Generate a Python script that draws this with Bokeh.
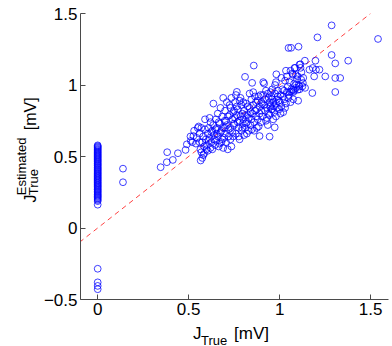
import math
from bokeh.plotting import figure
from bokeh.models import Range1d, FixedTicker
from bokeh.layouts import row, column
from bokeh.core.properties import value
from bokeh.embed import file_html
from bokeh.resources import INLINE

# ---------------- data ----------------
zero_x = [0.0] * 64
zero_y = [0.163, 0.188, 0.196, 0.203, 0.211, 0.218, 0.224, 0.231, 0.237, 0.245,
          0.252, 0.258, 0.266, 0.271, 0.279, 0.286, 0.292, 0.299, 0.305, 0.313,
          0.318, 0.326, 0.333, 0.339, 0.347, 0.352, 0.360, 0.366, 0.373, 0.380,
          0.386, 0.393, 0.400, 0.407, 0.413, 0.420, 0.426, 0.434, 0.440, 0.447,
          0.453, 0.461, 0.467, 0.474, 0.480, 0.487, 0.494, 0.500, 0.507, 0.513,
          0.520, 0.527, 0.533, 0.540, 0.547, 0.553, 0.560, 0.566, 0.572, 0.578,
          -0.285, -0.380, -0.405, -0.428]

sparse_x = [0.139, 0.139, 0.346, 0.382, 0.380, 0.413, 0.441, 0.483, 0.490, 0.512,
            0.526, 0.566, 0.575, 0.580, 0.590, 0.636, 0.690, 0.765, 0.810, 0.849,
            0.858, 0.890, 0.945, 0.973, 0.982, 1.049, 1.104, 1.102, 1.208, 1.286,
            1.286, 1.541, 1.306, 1.377, 1.306, 1.333, 1.306, 1.180, 1.197, 1.251,
            1.190, 1.164, 1.182, 1.200, 1.219, 1.139, 1.114, 1.082, 1.109, 1.073,
            1.100, 1.119, 1.128, 1.091, 1.109, 1.073, 1.100, 1.064, 1.063]
sparse_y = [0.415, 0.320, 0.425, 0.530, 0.460, 0.476, 0.523, 0.546, 0.585, 0.609,
            0.643, 0.472, 0.490, 0.510, 0.760, 0.870, 0.910, 0.952, 1.057, 1.015,
            1.136, 0.643, 0.639, 0.704, 1.075, 1.259, 1.268, 0.890, 1.333, 1.417,
            1.210, 1.322, 1.151, 1.170, 1.049, 1.049, 0.951, 0.944, 1.170, 1.060,
            1.060, 1.107, 1.119, 1.107, 1.107, 1.170, 1.145, 1.119, 1.142, 1.072,
            1.060, 1.037, 1.014, 1.002, 0.990, 0.967, 0.967, 0.955, 1.260]

core_x = [0.52, 0.53, 0.54, 0.545, 0.55, 0.51,
          0.555, 0.56, 0.565, 0.57, 0.575, 0.58, 0.585, 0.59, 0.595, 0.57, 0.598, 0.56, 0.585,
          0.60, 0.605, 0.61, 0.615, 0.62, 0.625, 0.63, 0.635, 0.64, 0.645, 0.61, 0.62, 0.63, 0.64, 0.648, 0.605, 0.625, 0.65, 0.615,
          0.652, 0.655, 0.66, 0.665, 0.67, 0.675, 0.68, 0.685, 0.69, 0.695, 0.66, 0.67, 0.68, 0.69, 0.698, 0.655, 0.675, 0.685, 0.665, 0.70,
          0.70, 0.705, 0.71, 0.715, 0.72, 0.725, 0.73, 0.735, 0.74, 0.745, 0.71, 0.72, 0.73, 0.74, 0.748, 0.705, 0.715, 0.725, 0.735, 0.745, 0.70, 0.73,
          0.75, 0.755, 0.76, 0.765, 0.77, 0.775, 0.78, 0.785, 0.79, 0.795, 0.76, 0.77, 0.78, 0.79, 0.798, 0.755, 0.765, 0.775, 0.785, 0.795, 0.75, 0.78,
          0.80, 0.805, 0.81, 0.815, 0.82, 0.825, 0.83, 0.835, 0.84, 0.845, 0.81, 0.82, 0.83, 0.84, 0.848, 0.80, 0.815, 0.825, 0.835, 0.845, 0.805,
          0.85, 0.855, 0.86, 0.865, 0.87, 0.875, 0.88, 0.885, 0.89, 0.895, 0.86, 0.87, 0.88, 0.89, 0.898, 0.855, 0.875, 0.885, 0.865, 0.90,
          0.90, 0.905, 0.91, 0.915, 0.92, 0.925, 0.93, 0.935, 0.94, 0.945, 0.91, 0.92, 0.93, 0.94, 0.948, 0.905, 0.915, 0.925, 0.935, 0.945,
          0.95, 0.955, 0.96, 0.965, 0.97, 0.975, 0.98, 0.985, 0.99, 0.995, 0.96, 0.97, 0.98, 0.99, 0.955, 0.965, 0.975, 0.985, 0.998, 0.96, 0.98, 0.95,
          1.00, 1.005, 1.01, 1.015, 1.02, 1.025, 1.03, 1.035, 1.04, 1.045, 1.01, 1.02, 1.03, 1.04, 1.048, 1.005, 1.025, 1.035,
          1.05, 1.055, 1.06, 1.065, 1.07, 1.075, 1.08, 1.085, 1.09, 1.095, 1.06, 1.075, 1.09, 1.055, 1.08,
          1.105, 1.11, 1.12, 1.125, 1.13, 1.115, 1.14]
core_y = [0.60, 0.68, 0.59, 0.63, 0.70, 0.64,
          0.71, 0.66, 0.55, 0.53, 0.60, 0.64, 0.57, 0.69, 0.62, 0.70, 0.55, 0.60, 0.52,
          0.58, 0.66, 0.70, 0.63, 0.56, 0.60, 0.68, 0.72, 0.65, 0.58, 0.61, 0.74, 0.55, 0.62, 0.69, 0.54, 0.67, 0.76, 0.77,
          0.61, 0.70, 0.64, 0.57, 0.73, 0.67, 0.60, 0.78, 0.70, 0.63, 0.80, 0.59, 0.68, 0.56, 0.75, 0.66, 0.84, 0.62, 0.74, 0.82,
          0.66, 0.60, 0.72, 0.78, 0.64, 0.86, 0.70, 0.57, 0.76, 0.81, 0.88, 0.69, 0.62, 0.67, 0.73, 0.75, 0.55, 0.79, 0.91, 0.64, 0.70, 0.84,
          0.72, 0.88, 0.66, 0.79, 0.83, 0.70, 0.75, 0.91, 0.68, 0.80, 0.93, 0.74, 0.62, 0.86, 0.73, 0.77, 0.85, 0.64, 0.78, 0.70, 0.82, 0.89,
          0.76, 0.82, 0.70, 0.87, 0.74, 0.79, 0.68, 0.84, 0.72, 0.90, 0.79, 0.66, 0.77, 0.81, 0.69, 0.88, 0.73, 0.85, 0.94, 0.76, 0.65,
          0.80, 0.86, 0.74, 0.92, 0.78, 0.83, 0.89, 0.71, 0.85, 0.93, 0.68, 0.88, 0.76, 0.80, 0.74, 0.95, 0.70, 0.92, 0.82, 0.88,
          0.82, 0.78, 1.02, 0.86, 0.90, 0.75, 0.84, 0.94, 0.80, 0.88, 0.93, 0.82, 0.77, 0.91, 0.85, 0.87, 1.01, 0.96, 0.72, 0.79,
          0.86, 0.83, 0.90, 0.88, 0.81, 0.94, 0.87, 0.84, 0.92, 0.89, 0.97, 0.85, 0.78, 0.96, 0.92, 0.76, 1.00, 0.90, 0.83, 0.83, 1.02, 0.95,
          0.88, 0.93, 0.85, 0.97, 0.81, 0.90, 1.03, 0.87, 0.95, 0.99, 1.05, 0.92, 0.84, 1.06, 0.91, 0.80, 0.96, 1.10,
          0.93, 1.02, 0.88, 0.97, 1.08, 0.95, 1.01, 1.12, 0.98, 1.04, 1.10, 0.90, 1.07, 0.95, 0.96,
          1.00, 0.97, 1.09, 0.99, 1.05, 1.12, 0.98]

ref_x = [-0.1, 1.5]
ref_y = [-0.1, 1.5]

x_ticks = [0, 0.5, 1, 1.5]
x_tick_labels = ["0", "0.5", "1", "1.5"]
y_ticks = [-0.5, 0, 0.5, 1, 1.5]
y_tick_labels = ["\u22120.5", "0", "0.5", "1", "1.5"]

x_label_texts = ["J", "True", "[mV]"]
y_label_texts = ["J", "Estimated", "True", "[mV]"]

FONT = "Liberation Sans"
W, H = 392, 346
YL_W = 40          # width of the y-label strip
XL_H = 25          # height of the x-label strip (full width)
MAIN_W, MAIN_H = W - YL_W, H - XL_H

# ---------------- main scatter figure ----------------
p = figure(width=MAIN_W, height=MAIN_H, output_backend="svg", toolbar_location=None,
           title=None,
           x_range=Range1d(-0.0945, 1.5986), y_range=Range1d(-0.5, 1.5),
           min_border_left=78 - YL_W, min_border_right=4, min_border_top=13,
           min_border_bottom=MAIN_H - 299)
p.outline_line_color = None
p.grid.visible = False

for ax, ticks, labels in ((p.xaxis[0], x_ticks, x_tick_labels), (p.yaxis[0], y_ticks, y_tick_labels)):
    ax.ticker = FixedTicker(ticks=ticks)
    ax.major_label_overrides = dict(zip(ticks, labels))
    ax.major_tick_in = 5
    ax.major_tick_out = 0
    ax.minor_tick_line_color = None
    ax.axis_line_color = "#4a4a4a"
    ax.major_tick_line_color = "#4a4a4a"
    ax.major_label_text_font = FONT
    ax.major_label_text_font_size = "17px"
    ax.major_label_text_color = "black"
p.xaxis.major_label_standoff = 3
p.yaxis.major_label_standoff = 3

p.line(ref_x, ref_y, line_color="red", line_alpha=0.75, line_width=1, line_dash="5 4")

for xs, ys in ((zero_x, zero_y), (sparse_x, sparse_y), (core_x, core_y)):
    p.scatter(xs, ys, marker="circle", size=6.8, fill_color=None,
              line_color="blue", line_alpha=0.75, line_width=1)


def strip(w, h):
    f = figure(width=w, height=h, output_backend="svg", toolbar_location=None,
               title=None, x_range=Range1d(0, w), y_range=Range1d(0, h),
               x_axis_location=None, y_axis_location=None,
               min_border=0, min_border_left=0, min_border_right=0,
               min_border_top=0, min_border_bottom=0)
    f.outline_line_color = None
    f.grid.visible = False
    return f

# ---------------- x label strip (page x 0..392, page y MAIN_H..346) ----------------
xl = strip(W, XL_H)
xl_px = [192.5, 200.5, 233.5]
xl_py = [333, 339.5, 333]
xl_sz = ["17px", "13px", "17px"]
for t, px, py, sz in zip(x_label_texts, xl_px, xl_py, xl_sz):
    xl.text(x=[px], y=[H - py], text=[t], text_font=value(FONT),
            text_font_size=sz, text_color="black",
            text_baseline="alphabetic", text_align="left")

# ---------------- y label strip (page x 0..YL_W, page y 0..MAIN_H) ----------------
yl = strip(YL_W, MAIN_H)
yl_px = [29.5, 20.5, 33.0, 29.5]
yl_py = [212, 204, 204, 131]
yl_sz = ["16px", "13px", "13px", "16px"]
for t, px, py, sz in zip(y_label_texts, yl_px, yl_py, yl_sz):
    yl.text(x=[px], y=[MAIN_H - py], text=[t], angle=math.pi / 2, text_font=value(FONT),
            text_font_size=sz, text_color="black",
            text_baseline="alphabetic", text_align="left")

layout = column(row(yl, p, spacing=0), xl, spacing=0)
open("out.html", "w").write(file_html(layout, INLINE))
